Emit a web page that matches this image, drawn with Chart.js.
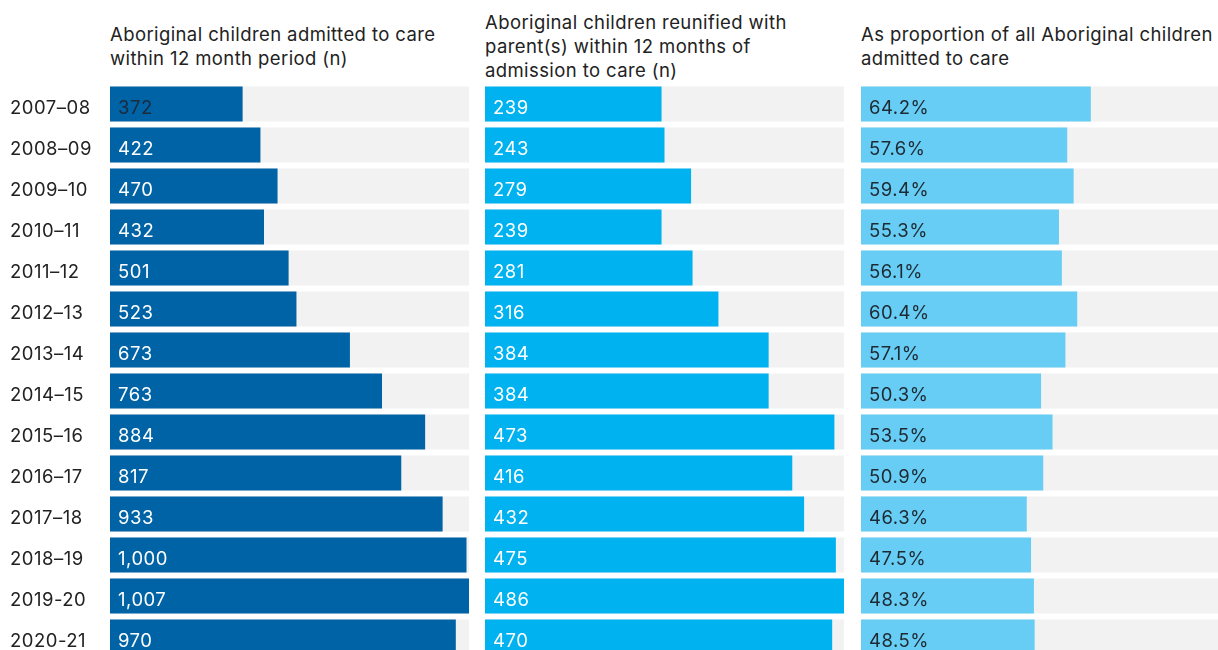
<!DOCTYPE html>
<html>
<head>
<meta charset="utf-8">
<script src="https://cdn.jsdelivr.net/npm/chart.js@4.4.1/dist/chart.umd.min.js"></script>
<style>
  html, body { margin:0; padding:0; width:1218px; height:650px; overflow:hidden; background:#fff; }
  body { position:relative; font-family: Inter, "Noto Sans", sans-serif; }
  canvas { position:absolute; top:0; }
  .title { position:absolute; top:0; height:92px; display:flex; align-items:center; font-size:18.5px; letter-spacing:0.4px; line-height:24px; color:#222; white-space:nowrap; }
</style>
</head>
<body>
<div class="title" style="left:110px;width:360px;">Aboriginal children admitted to care<br>within 12 month period (n)</div>
<div class="title" style="left:485px;width:370px;">Aboriginal children reunified with<br>parent(s) within 12 months of<br>admission to care (n)</div>
<div class="title" style="left:861px;width:360px;">As proportion of all Aboriginal children<br>admitted to care</div>
<canvas id="c1" width="469" height="660" style="left:0px"></canvas>
<canvas id="c2" width="359" height="660" style="left:485px"></canvas>
<canvas id="c3" width="358" height="660" style="left:861px"></canvas>
<script>
const years = ["2007–08","2008–09","2009–10","2010–11","2011–12","2012–13","2013–14","2014–15","2015–16","2016–17","2017–18","2018–19","2019-20","2020-21"];
const admitted = [372,422,470,432,501,523,673,763,884,817,933,1000,1007,970];
const reunified = [239,243,279,239,281,316,384,384,473,416,432,475,486,470];
const proportion = [64.2,57.6,59.4,55.3,56.1,60.4,57.1,50.3,53.5,50.9,46.3,47.5,48.3,48.5];
const proportionMax = 100;

const FONT = 'Inter, "Noto Sans", sans-serif';
const FSIZE = 18.5;

const spacingPlugin = {
  id: 'spacing',
  beforeDraw(chart) { chart.ctx.letterSpacing = '0.5px'; }
};

const labelPlugin = {
  id: 'inlabels',
  afterDatasetsDraw(chart, args, opts) {
    const ctx = chart.ctx;
    const meta = chart.getDatasetMeta(1);
    const data = chart.data.datasets[1].data;
    ctx.save();
    ctx.letterSpacing = '0.5px';
    ctx.font = FSIZE + 'px ' + FONT;
    ctx.textBaseline = 'middle';
    ctx.textAlign = 'left';
    meta.data.forEach((el, i) => {
      ctx.fillStyle = opts.colorFn(i);
      ctx.fillText(opts.fmt(data[i]), el.base + 8, el.y + 4);
    });
    ctx.restore();
  }
};

function makeChart(id, values, max, color, fmt, colorFn, showY) {
  return new Chart(document.getElementById(id), {
    type: 'bar',
    data: {
      labels: years,
      datasets: [
        { data: years.map(() => max), backgroundColor: '#f2f2f2', order: 2 },
        { data: values, backgroundColor: color, order: 1 }
      ]
    },
    options: {
      indexAxis: 'y',
      responsive: false,
      animation: false,
      devicePixelRatio: 1,
      layout: { padding: { top: 83.5, bottom: 2.5, left: showY ? 10 : 0, right: 0 } },
      datasets: { bar: { grouped: false, categoryPercentage: 1, barPercentage: 35/41, borderWidth: 0 } },
      plugins: {
        legend: { display: false },
        tooltip: { enabled: false },
        inlabels: { fmt: fmt, colorFn: colorFn }
      },
      scales: {
        x: { display: false, min: 0, max: max },
        y: {
          display: showY,
          grid: { display: false },
          border: { display: false },
          ticks: { font: { family: FONT, size: FSIZE }, color: '#222', crossAlign: 'far', padding: 0, labelOffset: 4 },
          afterFit(scale) {
            if (showY) { scale.width = 100; scale.paddingTop = 0; scale.paddingBottom = 0; }
          }
        }
      }
    },
    plugins: [spacingPlugin, labelPlugin]
  });
}

makeChart('c1', admitted, Math.max(...admitted), '#0063a6',
  v => v.toLocaleString('en-US'), i => i === 0 ? '#1b2b3b' : '#ffffff', true);
makeChart('c2', reunified, Math.max(...reunified), '#00b2ef',
  v => String(v), i => '#ffffff', false);
makeChart('c3', proportion, proportionMax, '#67cdf4',
  v => v.toFixed(1) + '%', i => '#1e2a33', false);
</script>
</body>
</html>
